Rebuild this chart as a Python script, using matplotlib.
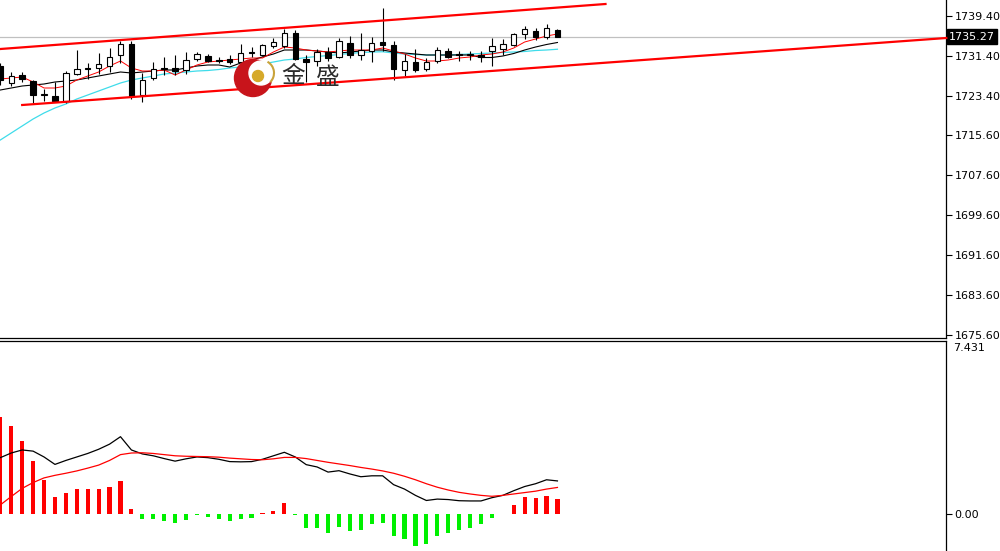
import matplotlib
matplotlib.use("Agg")
import matplotlib.pyplot as plt
import matplotlib.transforms as mtransforms
from matplotlib.patches import Circle, Arc

# candles
opens = [1729.3, 1726.0, 1727.6, 1726.4, 1723.5, 1723.45, 1722.3, 1727.7, 1728.9, 1729.0,
         1729.4, 1731.5, 1733.7, 1723.6, 1727.0, 1729.0, 1729.0, 1728.6, 1730.7, 1731.4,
         1730.5, 1730.7, 1730.2, 1731.9, 1731.6, 1733.3, 1733.4, 1736.0, 1730.8, 1730.4,
         1732.2, 1731.2, 1734.0, 1731.6, 1732.4, 1734.2, 1733.6, 1728.6, 1730.2, 1728.7,
         1730.3, 1732.4, 1731.7, 1731.5, 1731.5, 1732.3, 1732.7, 1733.5, 1735.7, 1736.4,
         1735.1, 1736.6]
highs = [1730.0, 1728.2, 1728.2, 1726.6, 1724.8, 1726.2, 1728.4, 1732.5, 1730.0, 1732.0,
         1732.9, 1734.4, 1734.4, 1728.0, 1730.2, 1731.2, 1731.6, 1732.2, 1732.2, 1731.8,
         1731.2, 1731.6, 1733.8, 1733.2, 1733.8, 1734.9, 1736.8, 1736.6, 1731.6, 1732.8,
         1733.2, 1735.0, 1735.4, 1736.0, 1735.2, 1741.0, 1734.4, 1731.8, 1732.8, 1731.0,
         1733.1, 1732.9, 1732.4, 1732.4, 1732.4, 1734.9, 1734.8, 1735.9, 1737.3, 1737.0,
         1737.7, 1736.8]
lows = [1725.6, 1725.4, 1726.2, 1722.0, 1722.3, 1722.3, 1722.1, 1727.6, 1726.8, 1727.8,
        1728.2, 1730.0, 1722.8, 1722.2, 1726.6, 1727.6, 1727.6, 1727.8, 1730.4, 1730.2,
        1730.0, 1729.8, 1729.6, 1731.2, 1731.4, 1732.9, 1733.0, 1730.6, 1726.2, 1729.4,
        1730.4, 1731.0, 1731.0, 1730.6, 1730.2, 1732.4, 1726.6, 1727.4, 1728.2, 1728.4,
        1730.0, 1730.9, 1730.3, 1730.6, 1730.2, 1729.4, 1731.6, 1733.4, 1734.8, 1734.6,
        1734.8, 1735.1]
closes = [1726.6, 1727.4, 1726.8, 1723.6, 1723.7, 1722.4, 1728.0, 1728.7, 1728.7, 1729.7,
          1731.1, 1733.7, 1723.4, 1726.6, 1728.8, 1728.8, 1728.4, 1730.6, 1731.7, 1730.4,
          1730.3, 1730.2, 1732.0, 1732.1, 1733.6, 1734.1, 1736.0, 1730.8, 1730.2, 1732.2,
          1731.0, 1734.4, 1731.6, 1732.6, 1734.0, 1733.6, 1728.8, 1730.4, 1728.6, 1730.2,
          1732.6, 1731.2, 1731.5, 1731.7, 1731.1, 1733.3, 1733.7, 1735.7, 1736.7, 1735.1,
          1736.9, 1735.27]

# moving averages
ma_fast = [1726.8, 1727.0, 1727.2, 1726.2, 1725.0, 1725.0, 1725.4, 1726.6, 1727.4, 1728.2,
           1729.4, 1730.4, 1729.0, 1728.4, 1728.4, 1728.6, 1727.6, 1728.6, 1729.6, 1730.2,
           1730.4, 1730.6, 1730.8, 1731.0, 1731.0, 1732.2, 1733.2, 1733.0, 1732.6, 1732.4,
           1732.2, 1732.4, 1732.6, 1732.6, 1732.6, 1733.0, 1732.4, 1731.8, 1731.0, 1730.4,
           1730.4, 1730.6, 1731.0, 1731.2, 1731.6, 1731.8, 1732.2, 1733.0, 1734.2, 1734.8,
           1735.4, 1735.8]
ma_mid = [1724.6, 1725.0, 1725.4, 1725.6, 1725.8, 1726.2, 1726.4, 1726.6, 1727.0, 1727.4,
          1727.8, 1728.2, 1728.0, 1728.2, 1728.4, 1728.6, 1728.6, 1729.0, 1729.4, 1729.6,
          1729.6, 1729.2, 1730.0, 1730.6, 1731.2, 1731.8, 1732.6, 1732.6, 1732.6, 1732.4,
          1732.2, 1732.0, 1732.2, 1732.4, 1732.6, 1732.6, 1732.2, 1732.0, 1731.8, 1731.6,
          1731.6, 1731.6, 1731.6, 1731.6, 1731.1, 1731.1, 1731.4, 1731.9, 1732.6, 1733.2,
          1733.7, 1734.1]
ma_slow = [1714.6, 1716.0, 1717.4, 1718.8, 1720.0, 1721.0, 1721.8, 1722.8, 1723.6, 1724.4,
           1725.2, 1726.0, 1726.6, 1727.0, 1727.4, 1727.8, 1728.0, 1728.2, 1728.4, 1728.5,
           1728.7, 1729.0, 1729.2, 1729.4, 1729.8, 1730.2, 1730.6, 1730.8, 1731.1, 1731.3,
           1731.5, 1731.7, 1731.9, 1732.1, 1732.2, 1732.25, 1732.0, 1731.8, 1731.7, 1731.6,
           1731.6, 1731.6, 1731.7, 1731.8, 1731.9, 1732.0, 1732.1, 1732.2, 1732.3, 1732.5,
           1732.6, 1732.75]

# channel trendlines (bar index, price)
upper_x = [0, 55.4]
upper_y = [1732.8, 1741.8]
lower_x = [2.0, 86.6]
lower_y = [1721.6, 1735.0]

last_price = 1735.27
price_ticks = [1739.4, 1731.4, 1723.4, 1715.6, 1707.6, 1699.6, 1691.6, 1683.6, 1675.6]
price_labels = ["1739.40", "1731.40", "1723.40", "1715.60", "1707.60",
                "1699.60", "1691.60", "1683.60", "1675.60"]

# MACD panel
macd_hist = [4.17, 3.76, 3.14, 2.28, 1.47, 0.74, 0.9, 1.07, 1.07, 1.07, 1.17, 1.43, 0.23,
             -0.2, -0.2, -0.3, -0.4, -0.25, -0.05, -0.15, -0.2, -0.3, -0.22, -0.18,
             0.05, 0.12, 0.48, -0.05,
             -0.59, -0.59, -0.8, -0.54, -0.74, -0.69, -0.43, -0.37, -0.94, -1.09, -1.37,
             -1.29, -0.94, -0.8, -0.69, -0.59, -0.43, -0.19, -0.02,
             0.37, 0.72, 0.69, 0.77, 0.63]
macd_dif = [2.42, 2.62, 2.75, 2.7, 2.45, 2.13, 2.3, 2.45, 2.6, 2.78, 3.0, 3.32, 2.75,
            2.58, 2.5, 2.38, 2.27, 2.37, 2.45, 2.42, 2.35, 2.25, 2.24, 2.25, 2.35, 2.5,
            2.65, 2.45, 2.12, 2.02, 1.8, 1.86, 1.72, 1.6, 1.64, 1.64, 1.26, 1.07, 0.8,
            0.58, 0.64, 0.62, 0.57, 0.56, 0.56, 0.7, 0.8, 1.0, 1.18, 1.3, 1.47, 1.42]
macd_dea = [0.39, 0.75, 1.1, 1.35, 1.55, 1.66, 1.75, 1.85, 1.97, 2.1, 2.3, 2.55, 2.62,
            2.63, 2.6, 2.55, 2.5, 2.48, 2.47, 2.46, 2.44, 2.4, 2.37, 2.34, 2.33, 2.37,
            2.43, 2.43, 2.38, 2.3, 2.22, 2.15, 2.08, 2.0, 1.93, 1.85, 1.75, 1.62, 1.47,
            1.3, 1.15, 1.03, 0.93, 0.86, 0.8, 0.76, 0.8, 0.86, 0.92, 0.98, 1.07, 1.14]
macd_top = 7.431

x = list(range(len(closes)))
xlim = (-0.03, 86.57)

fig = plt.figure(figsize=(10, 5.51), dpi=100)
ax = fig.add_axes([0, 213 / 551, 0.946, 338 / 551])
axm = fig.add_axes([0, 0, 0.946, 210 / 551])

for a in (ax, axm):
    a.set_xlim(*xlim)
    a.set_xticks([])
    a.yaxis.tick_right()
    a.tick_params(axis="y", length=4, width=0.8, pad=2, labelsize=8, colors="black")
    a.spines["left"].set_visible(False)
    a.spines["right"].set_linewidth(0.9)

ax.spines["top"].set_visible(False)
ax.spines["bottom"].set_linewidth(0.9)
axm.spines["bottom"].set_visible(False)
axm.spines["top"].set_linewidth(0.9)

# price panel
ax.set_ylim(1675.0, 1742.6)
ax.set_yticks(price_ticks)
ax.set_yticklabels(price_labels)
ax.axhline(last_price, color="#c0c0c0", lw=0.9, zorder=0.5)

ax.vlines(x, lows, highs, color="black", lw=0.8, zorder=3)
bottoms = [min(o, c) for o, c in zip(opens, closes)]
heights = [max(abs(c - o), 0.2) for o, c in zip(opens, closes)]
faces = ["white" if c > o else "black" for o, c in zip(opens, closes)]
ax.bar(x, heights, bottom=bottoms, width=0.5, color=faces, edgecolor="black",
       linewidth=0.8, zorder=4)

ax.plot(x, ma_slow, color="#3fdcea", lw=0.9, zorder=2)
ax.plot(x, ma_mid, color="black", lw=0.8, zorder=2)
ax.plot(x, ma_fast, color="#ff0000", lw=0.7, zorder=2)

ax.plot(upper_x, upper_y, color="#ff0000", lw=1.6, zorder=5)
ax.plot(lower_x, lower_y, color="#ff0000", lw=1.6, zorder=5, clip_on=False)

trans = mtransforms.blended_transform_factory(ax.transAxes, ax.transData)
ax.text(1.003, last_price, "1735.27", transform=trans, color="white", fontsize=8,
        va="center", ha="left",
        bbox=dict(boxstyle="square,pad=0.2", facecolor="black", edgecolor="black"))

# MACD panel
axm.set_ylim(-1.59, macd_top)
axm.set_yticks([0])
axm.set_yticklabels(["0.00"])
hcol = ["#ff0000" if v > 0 else "#00f000" for v in macd_hist]
axm.bar(x, macd_hist, width=0.38, color=hcol, zorder=2)
axm.plot(x, macd_dif, color="black", lw=0.9, zorder=3)
axm.plot(x, macd_dea, color="#ff0000", lw=0.9, zorder=3)
transm = mtransforms.blended_transform_factory(axm.transAxes, axm.transData)
axm.text(1.007, macd_top - 0.08, "7.431", transform=transm, fontsize=8,
         va="top", ha="left")

# watermark logo
ov = fig.add_axes([0, 0, 1, 1], zorder=10)
ov.set_xlim(0, 1000)
ov.set_ylim(551, 0)
ov.axis("off")
ov.patch.set_alpha(0)
ov.add_patch(Circle((253, 78), 18.5, color="#c8141b"))
ov.add_patch(Circle((261, 73), 12, color="white"))
ov.add_patch(Arc((261, 73), 26, 26, theta1=-60, theta2=45, color="#c9a33a", lw=1.5))
ov.add_patch(Circle((258, 76), 5.5, color="#d6a92a"))
ov.text(281, 77, "金", fontsize=17, family=["Noto Sans CJK SC"], color="#2b2b2b",
        va="center", ha="left")
ov.text(316, 77, "盛", fontsize=17, family=["Noto Sans CJK SC"], color="#2b2b2b",
        va="center", ha="left")

fig.savefig("out.png", dpi=100, facecolor="white")
